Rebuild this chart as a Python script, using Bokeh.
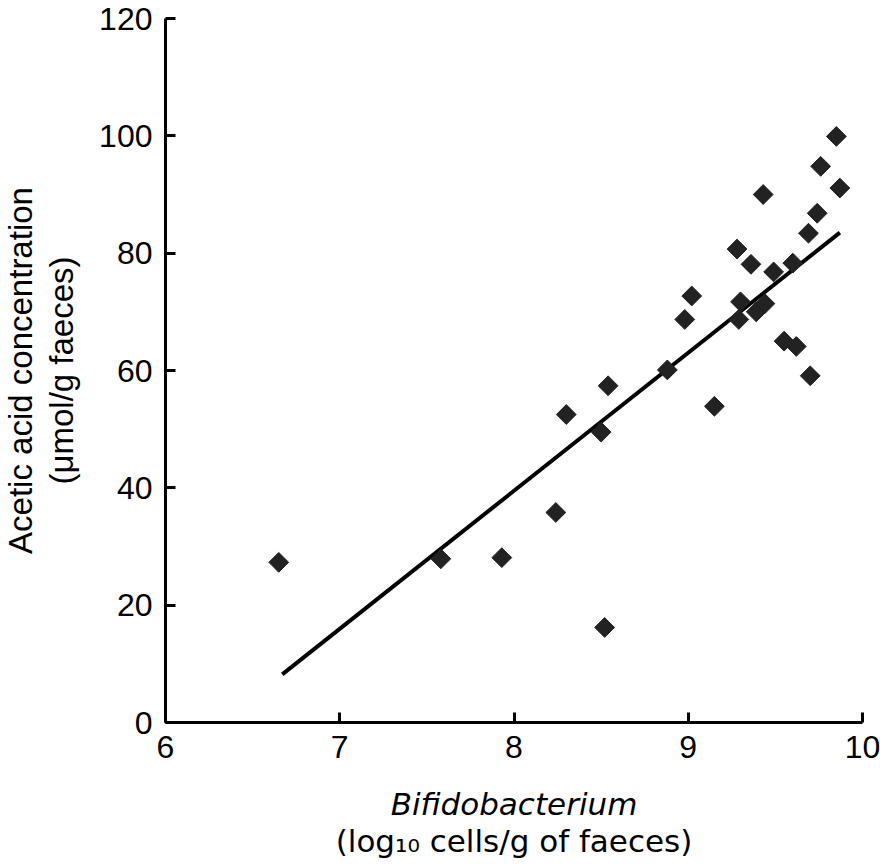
import math
from bokeh.plotting import figure
from bokeh.models import Range1d, Title, FixedTicker
from bokeh.embed import file_html
from bokeh.resources import INLINE

# data
bifido = [6.65, 7.58, 7.93, 8.24, 8.30, 8.50, 8.54, 8.52, 8.88, 8.98, 9.02, 9.15,
          9.28, 9.30, 9.29, 9.36, 9.39, 9.44, 9.43, 9.49, 9.55, 9.62, 9.60, 9.70,
          9.69, 9.74, 9.76, 9.85, 9.87]
acetic = [27.3, 27.9, 28.1, 35.8, 52.5, 49.5, 57.4, 16.2, 60.1, 68.7, 72.7, 53.9,
          80.7, 71.7, 68.7, 78.1, 70.0, 71.4, 90.0, 76.8, 65.0, 64.1, 78.3, 59.1,
          83.4, 86.8, 94.8, 99.9, 91.1]
fit_x = [6.67, 9.87]
fit_y = [8.2, 83.5]
x_ticks = [6, 7, 8, 9, 10]
y_ticks = [0, 20, 40, 60, 80, 100, 120]
x_title = ["Bifidobacterium", "(log\u2081\u2080 cells/g of faeces)"]
y_title = ["Acetic acid concentration", "(\u03bcmol/g faeces)"]

FONT = "Liberation Sans"
XFONT = "DejaVu Sans"

# layout (pixels)
LEFT, FW, RIGHT = 165, 697, 18
TOP, FH, BOTTOM = 18, 704, 142

p = figure(output_backend="svg", toolbar_location=None,
           frame_width=FW, frame_height=FH,
           min_border_left=LEFT, min_border_right=RIGHT,
           min_border_top=TOP, min_border_bottom=BOTTOM,
           x_range=Range1d(6, 10), y_range=Range1d(0, 120))
p.outline_line_color = None
p.grid.visible = False
p.background_fill_color = "white"
p.border_fill_color = "white"

for ax in (p.xaxis[0], p.yaxis[0]):
    ax.axis_line_width = 3
    ax.axis_line_color = "black"
    ax.major_tick_line_width = 3
    ax.major_tick_line_color = "black"
    ax.major_tick_in = 10
    ax.major_tick_out = 0
    ax.minor_tick_line_color = None
    ax.major_label_text_font = FONT
    ax.major_label_text_font_size = "32px"
    ax.major_label_text_color = "black"
    ax.axis_label_text_color = "black"
p.xaxis.major_label_standoff = 13
p.yaxis.major_label_standoff = 13

p.xaxis.ticker = FixedTicker(ticks=x_ticks)
p.yaxis.ticker = FixedTicker(ticks=y_ticks)

# inner title lines as axis labels
p.xaxis.axis_label = x_title[0]
p.xaxis.axis_label_text_font = XFONT
p.xaxis.axis_label_text_font_size = "31px"
p.xaxis.axis_label_text_font_style = "italic"
p.xaxis.axis_label_standoff = 25

p.yaxis.axis_label = y_title[1]
p.yaxis.axis_label_text_font = FONT
p.yaxis.axis_label_text_font_size = "33px"
p.yaxis.axis_label_text_font_style = "normal"
p.yaxis.axis_label_standoff = 16

p.line(fit_x, fit_y, line_color="black", line_width=4)
p.scatter(bifido, acetic, marker="square", angle=math.pi / 4, size=14,
          fill_color="#222222", line_color="#222222", line_width=1)

# outer title lines
p.add_layout(Title(text=x_title[1], align="center", text_font=XFONT,
                   text_font_size="31px", text_font_style="normal",
                   text_color="black", standoff=-4, vertical_align="top"), "below")
p.add_layout(Title(text=y_title[0], align="center", text_font=FONT,
                   text_font_size="33px", text_font_style="normal",
                   text_color="black", standoff=0, vertical_align="top"), "left")

open("out.html", "w").write(file_html(p, INLINE))
